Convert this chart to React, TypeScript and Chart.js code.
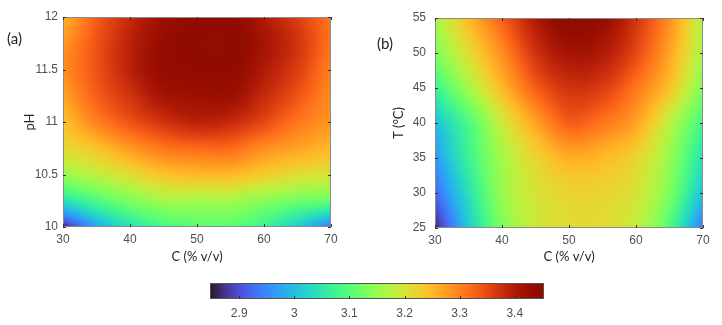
import React, { useEffect, useRef } from "react";
import { Chart, registerables } from "chart.js";

Chart.register(...registerables);

// ---------- data ----------
const C_VALUES = [30, 35, 40, 45, 50, 55, 60, 65, 70];
const PH_VALUES = [12, 11.75, 11.5, 11.25, 11, 10.75, 10.5, 10.25, 10];
const T_VALUES = [55, 50, 45, 40, 35, 30, 25];

// response surface (a): rows follow PH_VALUES, columns follow C_VALUES
const RESPONSE_PH = [
  [3.25, 3.33, 3.38, 3.42, 3.44, 3.44, 3.40, 3.36, 3.31],
  [3.28, 3.34, 3.39, 3.43, 3.45, 3.45, 3.41, 3.37, 3.31],
  [3.29, 3.34, 3.39, 3.43, 3.44, 3.44, 3.40, 3.36, 3.30],
  [3.27, 3.33, 3.37, 3.41, 3.42, 3.42, 3.38, 3.34, 3.29],
  [3.24, 3.30, 3.34, 3.37, 3.39, 3.38, 3.35, 3.31, 3.28],
  [3.21, 3.24, 3.28, 3.31, 3.32, 3.32, 3.29, 3.27, 3.25],
  [3.15, 3.18, 3.21, 3.24, 3.25, 3.25, 3.23, 3.21, 3.20],
  [3.04, 3.09, 3.13, 3.16, 3.16, 3.16, 3.14, 3.12, 3.11],
  [2.86, 2.97, 3.04, 3.08, 3.10, 3.10, 3.07, 3.01, 2.93],
];

// response surface (b): rows follow T_VALUES, columns follow C_VALUES
const RESPONSE_T = [
  [3.16, 3.25, 3.33, 3.40, 3.45, 3.43, 3.37, 3.29, 3.17],
  [3.13, 3.21, 3.29, 3.37, 3.41, 3.40, 3.35, 3.27, 3.16],
  [3.07, 3.16, 3.25, 3.33, 3.37, 3.36, 3.31, 3.24, 3.13],
  [3.00, 3.09, 3.19, 3.27, 3.33, 3.31, 3.27, 3.18, 3.08],
  [2.96, 3.07, 3.16, 3.22, 3.26, 3.25, 3.22, 3.15, 3.04],
  [2.92, 3.04, 3.15, 3.20, 3.22, 3.22, 3.20, 3.13, 3.00],
  [2.86, 3.01, 3.13, 3.19, 3.21, 3.21, 3.18, 3.09, 2.93],
];

const C_TICKS = [30, 40, 50, 60, 70];
const PH_TICKS = [10, 10.5, 11, 11.5, 12];
const T_TICKS = [25, 30, 35, 40, 45, 50, 55];
const COLORBAR_TICKS = [2.9, 3, 3.1, 3.2, 3.3, 3.4];
const COLOR_MIN = 2.847;
const COLOR_MAX = 3.453;

// ---------- helpers ----------
const TICK_FONT = { family: "'Liberation Sans', Arial, sans-serif", size: 12 };
const TITLE_FONT = { family: "Lato, 'Open Sans', sans-serif", size: 13 };
const TICK_COLOR = "#505050";
const TITLE_COLOR = "#262626";

function turbo(t: number): [number, number, number] {
  const x = Math.max(0, Math.min(1, t));
  const r = 0.13572138 + x * (4.6153926 + x * (-42.66032258 + x * (132.13108234 + x * (-152.94239396 + x * 59.28637943))));
  const g = 0.09140261 + x * (2.19418839 + x * (4.84296658 + x * (-14.18503333 + x * (4.27729857 + x * 2.82956604))));
  const b = 0.1066733 + x * (12.64194608 + x * (-60.58204836 + x * (110.36276771 + x * (-89.90310912 + x * 27.34824973))));
  const c = (v: number) => Math.round(255 * Math.max(0, Math.min(1, v)));
  return [c(r), c(g), c(b)];
}

function fracIndex(arr: number[], v: number): number {
  for (let i = 0; i < arr.length - 1; i++) {
    const a = arr[i], b = arr[i + 1];
    const lo = Math.min(a, b), hi = Math.max(a, b);
    if (v >= lo && v <= hi) return i + (v - a) / (b - a);
  }
  const first = Math.abs(v - arr[0]) < Math.abs(v - arr[arr.length - 1]);
  return first ? 0 : arr.length - 1;
}

function cr(p0: number, p1: number, p2: number, p3: number, t: number) {
  return 0.5 * (2 * p1 + (-p0 + p2) * t + (2 * p0 - 5 * p1 + 4 * p2 - p3) * t * t + (-p0 + 3 * p1 - 3 * p2 + p3) * t * t * t);
}

function rowAt(row: number[], i: number): number {
  const n = row.length;
  if (i < 0) return 2 * row[0] - row[1];
  if (i >= n) return 2 * row[n - 1] - row[n - 2];
  return row[i];
}

function sampleGrid(grid: number[][], fr: number, fc: number): number {
  const nr = grid.length, nc = grid[0].length;
  let r = Math.floor(fr), c = Math.floor(fc);
  if (r >= nr - 1) r = nr - 2;
  if (c >= nc - 1) c = nc - 2;
  const tr = fr - r, tc = fc - c;
  const colVals: number[] = [];
  for (let k = -1; k <= 2; k++) {
    let rr: number[];
    if (r + k < 0) rr = grid[0].map((v, j) => 2 * v - grid[1][j]);
    else if (r + k >= nr) rr = grid[nr - 1].map((v, j) => 2 * v - grid[nr - 2][j]);
    else rr = grid[r + k];
    colVals.push(cr(rowAt(rr, c - 1), rowAt(rr, c), rowAt(rr, c + 1), rowAt(rr, c + 2), tc));
  }
  return cr(colVals[0], colVals[1], colVals[2], colVals[3], tr);
}

function makeHeatmapPlugin(xVals: number[], yVals: number[], grid: number[][]) {
  return {
    id: "heatmap",
    beforeDatasetsDraw(chart: any) {
      const { ctx, chartArea: a, scales } = chart;
      const w = Math.round(a.right - a.left);
      const h = Math.round(a.bottom - a.top);
      const off = document.createElement("canvas");
      off.width = w;
      off.height = h;
      const octx = off.getContext("2d")!;
      const img = octx.createImageData(w, h);
      for (let py = 0; py < h; py++) {
        const yv = scales.y.getValueForPixel(a.top + py + 0.5);
        const fr = fracIndex(yVals, yv);
        for (let px = 0; px < w; px++) {
          const xv = scales.x.getValueForPixel(a.left + px + 0.5);
          const fc = fracIndex(xVals, xv);
          const v = sampleGrid(grid, fr, fc);
          const [r, g, b] = turbo((v - COLOR_MIN) / (COLOR_MAX - COLOR_MIN));
          const idx = (py * w + px) * 4;
          img.data[idx] = r;
          img.data[idx + 1] = g;
          img.data[idx + 2] = b;
          img.data[idx + 3] = 255;
        }
      }
      octx.putImageData(img, 0, 0);
      ctx.save();
      ctx.drawImage(off, a.left, a.top, a.right - a.left, a.bottom - a.top);
      ctx.restore();
    },
  };
}

const framePlugin = {
  id: "frame",
  afterDatasetsDraw(chart: any) {
    const { ctx, chartArea: a, scales } = chart;
    ctx.save();
    ctx.strokeStyle = "#8a8a8a";
    ctx.lineWidth = 1;
    ctx.strokeRect(a.left + 0.5, a.top + 0.5, a.right - a.left - 1, a.bottom - a.top - 1);
    ctx.strokeStyle = "#333333";
    const len = 3;
    for (const t of scales.x.ticks) {
      const px = Math.round(scales.x.getPixelForValue(t.value)) + 0.5;
      ctx.beginPath();
      ctx.moveTo(px, a.bottom);
      ctx.lineTo(px, a.bottom - len);
      ctx.moveTo(px, a.top);
      ctx.lineTo(px, a.top + len);
      ctx.stroke();
    }
    for (const t of scales.y.ticks) {
      const py = Math.round(scales.y.getPixelForValue(t.value)) + 0.5;
      ctx.beginPath();
      ctx.moveTo(a.left, py);
      ctx.lineTo(a.left + len, py);
      ctx.moveTo(a.right, py);
      ctx.lineTo(a.right - len, py);
      ctx.stroke();
    }
    ctx.restore();
  },
};

const colorbarPlugin = {
  id: "colorbar",
  beforeDatasetsDraw(chart: any) {
    const { ctx, chartArea: a, scales } = chart;
    ctx.save();
    for (let px = Math.floor(a.left); px < Math.ceil(a.right); px++) {
      const v = scales.x.getValueForPixel(px + 0.5);
      const [r, g, b] = turbo((v - COLOR_MIN) / (COLOR_MAX - COLOR_MIN));
      ctx.fillStyle = `rgb(${r},${g},${b})`;
      ctx.fillRect(px, a.top, 1, a.bottom - a.top);
    }
    ctx.strokeStyle = "#555555";
    ctx.lineWidth = 1;
    ctx.strokeRect(a.left + 0.5, a.top + 0.5, a.right - a.left - 1, a.bottom - a.top - 1);
    ctx.strokeStyle = "#333333";
    for (const t of scales.x.ticks) {
      const px = Math.round(scales.x.getPixelForValue(t.value)) + 0.5;
      ctx.beginPath();
      ctx.moveTo(px, a.bottom);
      ctx.lineTo(px, a.bottom - 3);
      ctx.stroke();
    }
    ctx.restore();
  },
};

interface PanelSpec {
  yVals: number[];
  grid: number[][];
  yTicks: number[];
  yMin: number;
  yMax: number;
  yTitle: string;
  padTop: number;
  padRight: number;
  yAxisWidth: number;
  xAxisHeight: number;
  yTickPad: number;
  yTitlePad: number;
}

function buildPanelConfig(p: PanelSpec): any {
  const points: { x: number; y: number }[] = [];
  p.yVals.forEach((yv) => C_VALUES.forEach((xv) => points.push({ x: xv, y: yv })));
  return {
    type: "scatter",
    data: { datasets: [{ data: points, pointRadius: 0, showLine: false }] },
    options: {
      responsive: false,
      animation: false,
      events: [],
      layout: { padding: { top: p.padTop, right: p.padRight, left: 0, bottom: 0 } },
      plugins: { legend: { display: false }, tooltip: { enabled: false } },
      scales: {
        x: {
          type: "linear",
          min: 30,
          max: 70,
          afterBuildTicks: (s: any) => {
            s.ticks = C_TICKS.map((v) => ({ value: v }));
          },
          afterFit: (s: any) => {
            s.height = p.xAxisHeight;
          },
          grid: { display: false, drawTicks: false },
          border: { display: false },
          ticks: { padding: 5, font: TICK_FONT, color: TICK_COLOR, maxRotation: 0, callback: (v: any) => String(v) },
          title: { display: true, text: "C (% v/v)", font: TITLE_FONT, color: TITLE_COLOR, padding: { top: 0, bottom: 0 } },
        },
        y: {
          type: "linear",
          min: p.yMin,
          max: p.yMax,
          afterBuildTicks: (s: any) => {
            s.ticks = p.yTicks.map((v) => ({ value: v }));
          },
          afterFit: (s: any) => {
            s.width = p.yAxisWidth;
          },
          grid: { display: false, drawTicks: false },
          border: { display: false },
          ticks: { padding: p.yTickPad, font: TICK_FONT, color: TICK_COLOR, callback: (v: any) => String(v) },
          title: { display: true, text: p.yTitle, font: TITLE_FONT, color: TITLE_COLOR, padding: { top: p.yTitlePad, bottom: 0 } },
        },
      },
    },
    plugins: [makeHeatmapPlugin(C_VALUES, p.yVals, p.grid), framePlugin],
  };
}

function buildColorbarConfig(): any {
  return {
    type: "scatter",
    data: { datasets: [{ data: COLORBAR_TICKS.map((v) => ({ x: v, y: 0.5 })), pointRadius: 0 }] },
    options: {
      responsive: false,
      animation: false,
      events: [],
      layout: { padding: { top: 13, right: 16, left: 10, bottom: 0 } },
      plugins: { legend: { display: false }, tooltip: { enabled: false } },
      scales: {
        x: {
          type: "linear",
          min: COLOR_MIN,
          max: COLOR_MAX,
          afterBuildTicks: (s: any) => {
            s.ticks = COLORBAR_TICKS.map((v) => ({ value: v }));
          },
          afterFit: (s: any) => {
            s.height = 26;
          },
          grid: { display: false, drawTicks: false },
          border: { display: false },
          ticks: { padding: 7, font: TICK_FONT, color: TICK_COLOR, maxRotation: 0, callback: (v: any) => String(Math.round(v * 10) / 10) },
        },
        y: { type: "linear", min: 0, max: 1, display: false },
      },
    },
    plugins: [colorbarPlugin],
  };
}

function ChartCanvas({ config, left, top, width, height }: { config: () => any; left: number; top: number; width: number; height: number }) {
  const ref = useRef<HTMLCanvasElement | null>(null);
  useEffect(() => {
    if (!ref.current) return;
    const chart = new Chart(ref.current, config());
    return () => chart.destroy();
  }, []);
  return (
    <canvas
      ref={ref}
      width={width}
      height={height}
      style={{ position: "absolute", left, top, width, height }}
    />
  );
}

const labelStyle: React.CSSProperties = {
  position: "absolute",
  fontFamily: "Lato, 'Open Sans', sans-serif",
  fontSize: 15,
  color: "#222222",
  lineHeight: "18px",
};

export default function App() {
  return (
    <div style={{ position: "fixed", left: 0, top: 0, width: 722, height: 325, background: "#ffffff", overflow: "hidden" }}>
      <ChartCanvas
        left={0}
        top={0}
        width={345}
        height={265}
        config={() =>
          buildPanelConfig({
            yVals: PH_VALUES,
            grid: RESPONSE_PH,
            yTicks: PH_TICKS,
            yMin: 10,
            yMax: 12,
            yTitle: "pH",
            padTop: 17,
            padRight: 14,
            yAxisWidth: 63,
            xAxisHeight: 38,
            yTickPad: 5,
            yTitlePad: 22,
          })
        }
      />
      <ChartCanvas
        left={360}
        top={0}
        width={362}
        height={265}
        config={() =>
          buildPanelConfig({
            yVals: T_VALUES,
            grid: RESPONSE_T,
            yTicks: T_TICKS,
            yMin: 25,
            yMax: 55,
            yTitle: "T (°C)",
            padTop: 18,
            padRight: 19,
            yAxisWidth: 75,
            xAxisHeight: 37,
            yTickPad: 9,
            yTitlePad: 31,
          })
        }
      />
      <ChartCanvas left={200} top={270} width={360} height={55} config={buildColorbarConfig} />
      <div style={{ ...labelStyle, left: 7, top: 29 }}>(a)</div>
      <div style={{ ...labelStyle, left: 377, top: 34 }}>(b)</div>
    </div>
  );
}
